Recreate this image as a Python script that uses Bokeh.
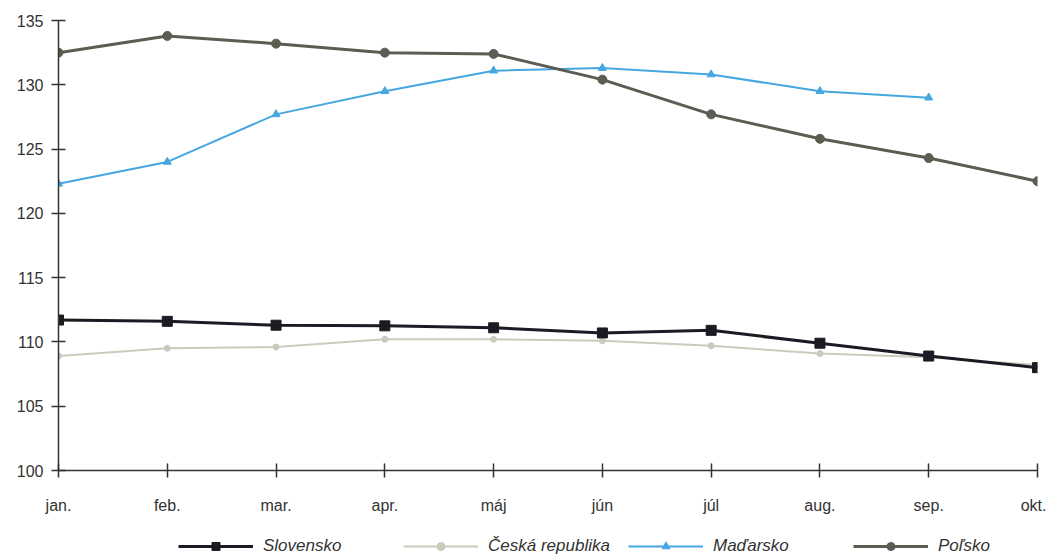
from bokeh.plotting import figure
from bokeh.layouts import column
from bokeh.models import Range1d, FixedTicker, Legend, LegendItem
from bokeh.embed import file_html
from bokeh.resources import INLINE

months = ["jan.", "feb.", "mar.", "apr.", "máj", "jún", "júl", "aug.", "sep.", "okt."]
slovensko = [111.7, 111.6, 111.3, 111.25, 111.1, 110.7, 110.9, 109.9, 108.9, 108.0]
ceska = [108.9, 109.5, 109.6, 110.2, 110.2, 110.1, 109.7, 109.1, 108.8, 108.2]
madarsko = [122.3, 124.0, 127.7, 129.5, 131.1, 131.3, 130.8, 129.5, 129.0]
polsko = [132.5, 133.8, 133.2, 132.5, 132.4, 130.4, 127.7, 125.8, 124.3, 122.5]
y_ticks = [100, 105, 110, 115, 120, 125, 130, 135]

xs = list(range(len(months)))

p = figure(width=1046, height=516, output_backend="svg", toolbar_location=None,
           x_range=Range1d(0, len(months) - 1), y_range=Range1d(100, 135),
           min_border_left=58, min_border_right=9, min_border_top=20, min_border_bottom=45)
p.outline_line_color = None
p.grid.visible = False
p.background_fill_color = "white"

FONT = "Liberation Sans"
for ax in (p.xaxis[0], p.yaxis[0]):
    ax.axis_line_color = "#333333"
    ax.axis_line_width = 1.5
    ax.major_tick_line_color = "#333333"
    ax.major_tick_line_width = 1.5
    ax.major_tick_in = 7
    ax.major_tick_out = 7
    ax.minor_tick_line_color = None
    ax.major_label_text_font = FONT
    ax.major_label_text_font_size = "16px"
    ax.major_label_text_color = "#333333"

p.xaxis.ticker = FixedTicker(ticks=xs)
p.xaxis.major_label_overrides = {i: m for i, m in enumerate(months)}
p.xaxis.major_label_standoff = 19
p.yaxis.ticker = FixedTicker(ticks=y_ticks)
p.yaxis.major_label_standoff = 8

# legend strip (its own plot below the chart; data fall outside its ranges)
q = figure(width=1046, height=38, output_backend="svg", toolbar_location=None,
           x_range=Range1d(-100, -99), y_range=Range1d(-100, -99),
           min_border_left=58, min_border_right=9, min_border_top=0, min_border_bottom=0)
q.axis.visible = False
q.grid.visible = False
q.outline_line_color = None

styles = [
    ("Slovensko", slovensko, "#1b1b24", 3, "square", 10),
    ("Česká republika", ceska, "#c9ccbc", 2, "circle", 6),
    ("Maďarsko", madarsko, "#45a7e0", 2, "triangle", 8),
    ("Poľsko", polsko, "#5b5c52", 3, "circle", 9),
]
draw_order = [1, 0, 2, 3]

for i in draw_order:
    label, vals, c, lw, mk, sz = styles[i]
    xv = xs[:len(vals)]
    p.line(xv, vals, line_color=c, line_width=lw)
    p.scatter(xv, vals, marker=mk, size=sz, fill_color=c, line_color=c)

items = []
for label, vals, c, lw, mk, sz in styles:
    xv = xs[:len(vals)]
    r1 = q.line(xv, vals, line_color=c, line_width=lw)
    r2 = q.scatter(xv, vals, marker=mk, size=sz, fill_color=c, line_color=c)
    items.append(LegendItem(label=label, renderers=[r1, r2]))

legend = Legend(items=items, orientation="horizontal", location=(120, -2),
                glyph_width=75, label_width=140, spacing=0, label_standoff=10,
                label_text_font=FONT, label_text_font_style="italic",
                label_text_font_size="17px", label_text_color="#333333",
                border_line_color=None, background_fill_alpha=0, padding=0, margin=0)
q.add_layout(legend, "center")

open("out.html", "w").write(file_html(column(p, q, spacing=0), INLINE))
